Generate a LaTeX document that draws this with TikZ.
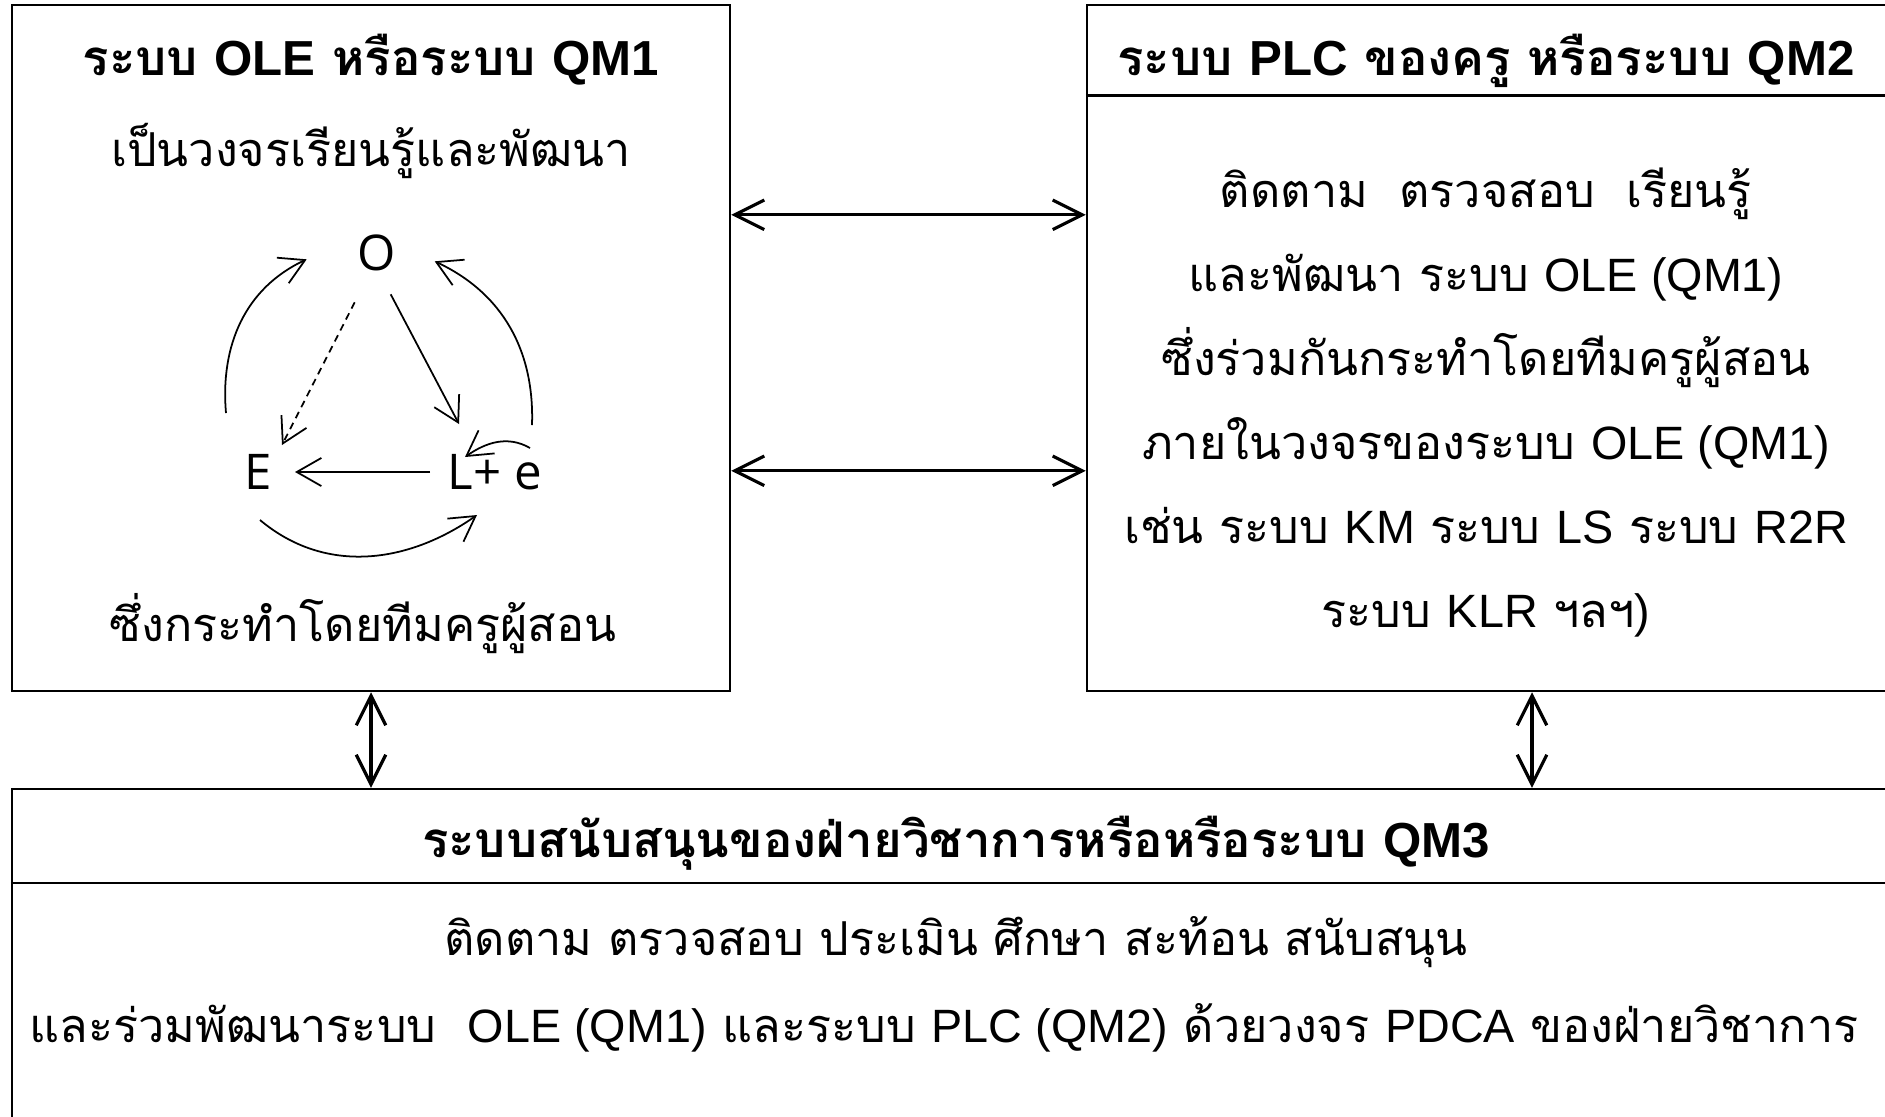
\documentclass[tikz,border=0pt]{standalone}
\usepackage{fontspec}
\usepackage{tikz}
\usetikzlibrary{arrows.meta}
\setmainfont[Script=Thai]{Loma}
\newfontfamily\en{Liberation Sans}
\newfontfamily\cyc{Open Sans}

\begin{document}
\begin{tikzpicture}[
  panel/.style={draw, line width=0.7pt, inner sep=0pt},
  rule/.style={line width=0.7pt},
  head/.style={anchor=base, inner sep=0pt, font=\fontsize{14}{16}\selectfont\bfseries},
  body/.style={anchor=base, inner sep=0pt, font=\fontsize{13.3}{16}\selectfont},
  letter/.style={inner sep=0pt, font=\cyc\fontsize{14}{16}\selectfont},
  link/.style={{Straight Barb[length=8.4pt,width=8.4pt]}-{Straight Barb[length=8.4pt,width=8.4pt]}, line width=0.9pt},
  cycarrow/.style={-{Straight Barb[length=7pt,width=8pt]}, line width=0.5pt}
]
\useasboundingbox (0,0) rectangle (18.85,-11.16);
\clip (0,0) rectangle (18.85,-11.16);

% QM1 box
\node[panel, minimum width=7.18cm, minimum height=6.86cm] (qmone) at (3.71,-3.48) {};
\node[head] (qmonetitle) at (3.71,-0.75) {ระบบ {\en OLE} หรือระบบ {\en QM1}};
\node[body] (qmonesub) at (3.71,-1.66) {เป็นวงจรเรียนรู้และพัฒนา};
\node[body] (qmonefoot) at (3.63,-6.41) {ซึ่งกระทำโดยทีมครูผู้สอน};

% O - L+e - E cycle
\node[letter] (o) at (3.767,-2.533) {O};
\node[letter] (e) at (2.58,-4.72) {E};
\node[letter, anchor=west] (le) at (4.47,-4.72) {L+ e};
\draw[cycarrow, dash pattern=on 2pt off 1.5pt] ([shift={(-0.22,-0.49)}]o.center) -- ([shift={(0.24,0.27)}]e.center);
\draw[cycarrow] ([shift={(0.14,-0.41)}]o.center) -- ([shift={(0.12,0.48)}]le.west);
\draw[cycarrow] ([shift={(-0.17,0)}]le.west) -- ([shift={(0.37,0)}]e.center);
\draw[cycarrow] ([shift={(-0.32,0.59)}]e.center) to[out=95, in=205] ([shift={(-0.70,-0.06)}]o.center);
\draw[cycarrow] ([shift={(0.85,0.47)}]le.west) to[out=88, in=335] ([shift={(0.58,-0.08)}]o.center);
\draw[cycarrow] ([shift={(0.02,-0.48)}]e.center) to[out=-40, in=215] ([shift={(0.30,-0.43)}]le.west);
\draw[cycarrow] ([shift={(0.83,0.24)}]le.west) to[out=150, in=35] ([shift={(0.18,0.15)}]le.west);

% QM2 box
\node[panel, minimum width=8.03cm, minimum height=6.86cm] (qmtwo) at (14.885,-3.48) {};
\draw[rule] ([yshift=-0.915cm]qmtwo.north west) -- ([yshift=-0.915cm]qmtwo.north east);
\node[head] (qmtwotitle) at (14.86,-0.75) {ระบบ {\en PLC} ของครู หรือระบบ {\en QM2}};
\node[body] (qmtwoa) at (14.86,-2.07) {ติดตาม~ ตรวจสอบ~ เรียนรู้};
\node[body] (qmtwob) at (14.86,-2.91) {และพัฒนา ระบบ {\en OLE (QM1)}};
\node[body] (qmtwoc) at (14.86,-3.75) {ซึ่งร่วมกันกระทำโดยทีมครูผู้สอน};
\node[body] (qmtwod) at (14.86,-4.59) {ภายในวงจรของระบบ {\en OLE (QM1)}};
\node[body] (qmtwoe) at (14.86,-5.43) {เช่น ระบบ {\en KM} ระบบ {\en LS} ระบบ {\en R2R}};
\node[body] (qmtwof) at (14.86,-6.27) {ระบบ {\en KLR} ฯลฯ{\en )}};

% QM3 box
\node[panel, minimum width=18.78cm, minimum height=3.61cm] (qmthree) at (9.51,-9.695) {};
\draw[rule] ([yshift=-0.95cm]qmthree.north west) -- ([yshift=-0.95cm]qmthree.north east);
\node[head] (qmthreetitle) at (9.56,-8.57) {ระบบสนับสนุนของฝ่ายวิชาการหรือหรือระบบ {\en QM3}};
\node[body] (qmthreea) at (9.56,-9.55) {ติดตาม ตรวจสอบ ประเมิน ศึกษา สะท้อน สนับสนุน};
\node[body] (qmthreeb) at (9.44,-10.42) {และร่วมพัฒนาระบบ~ {\en OLE (QM1)} และระบบ {\en PLC (QM2)} ด้วยวงจร {\en PDCA} ของฝ่ายวิชาการ};

% Links between the systems
\coordinate (qmtwofoot) at ([xshift=4.35mm]qmtwo.south);
\draw[link] ([yshift=-2.11cm]qmone.north east) -- ([yshift=-2.11cm]qmtwo.north west);
\draw[link] ([yshift=-4.67cm]qmone.north east) -- ([yshift=-4.67cm]qmtwo.north west);
\draw[link] (qmone.south) -- (qmone.south |- qmthree.north);
\draw[link] (qmtwofoot) -- (qmtwofoot |- qmthree.north);
\end{tikzpicture}
\end{document}
